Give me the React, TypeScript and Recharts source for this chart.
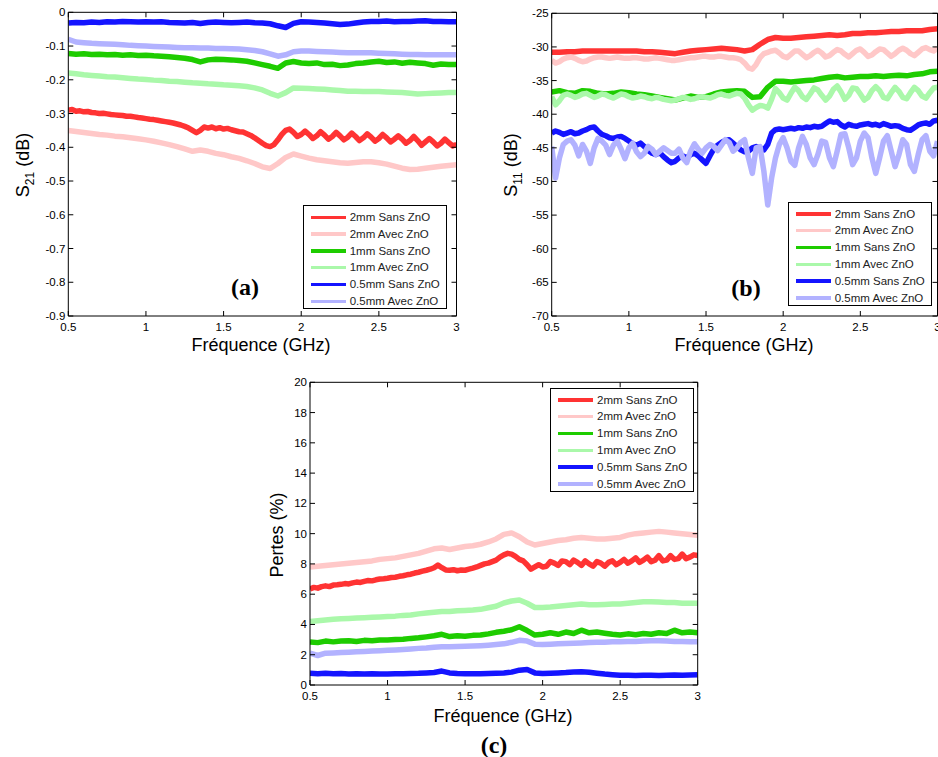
import React from 'react';
import { LineChart, Line, XAxis, YAxis } from 'recharts';

// ---------- frequency grids (GHz) ----------
const FREQ_COARSE = [0.5,0.55,0.6,0.65,0.7,0.75,0.8,0.85,0.9,0.95,1,1.05,1.1,1.15,1.2,1.25,1.3,1.35,1.4,1.45,1.5,1.55,1.6,1.65,1.7,1.75,1.8,1.85,1.9,1.95,2,2.05,2.1,2.15,2.2,2.25,2.3,2.35,2.4,2.45,2.5,2.55,2.6,2.65,2.7,2.75,2.8,2.85,2.9,2.95,3];
const FREQ_FINE = [0.5,0.525,0.55,0.575,0.6,0.625,0.65,0.675,0.7,0.725,0.75,0.775,0.8,0.825,0.85,0.875,0.9,0.925,0.95,0.975,1,1.025,1.05,1.075,1.1,1.125,1.15,1.175,1.2,1.225,1.25,1.275,1.3,1.325,1.35,1.375,1.4,1.425,1.45,1.475,1.5,1.525,1.55,1.575,1.6,1.625,1.65,1.675,1.7,1.725,1.75,1.775,1.8,1.825,1.85,1.875,1.9,1.925,1.95,1.975,2,2.025,2.05,2.075,2.1,2.125,2.15,2.175,2.2,2.225,2.25,2.275,2.3,2.325,2.35,2.375,2.4,2.425,2.45,2.475,2.5,2.525,2.55,2.575,2.6,2.625,2.65,2.675,2.7,2.725,2.75,2.775,2.8,2.825,2.85,2.875,2.9,2.925,2.95,2.975,3];

// ---------- tick labels ----------
const X_TICKS = [0.5, 1, 1.5, 2, 2.5, 3];
const Y_TICKS_A = [0, -0.1, -0.2, -0.3, -0.4, -0.5, -0.6, -0.7, -0.8, -0.9];
const Y_TICKS_B = [-25, -30, -35, -40, -45, -50, -55, -60, -65, -70];
const Y_TICKS_C = [0, 2, 4, 6, 8, 10, 12, 14, 16, 18, 20];

const LEGEND_NAMES = ['2mm Sans ZnO', '2mm Avec ZnO', '1mm Sans ZnO', '1mm Avec ZnO', '0.5mm Sans ZnO', '0.5mm Avec ZnO'];
const COLORS = ['#FF3333', '#FFC8C8', '#1ECC00', '#AAF8AA', '#1414FF', '#B2B2FF'];

// ---------- (a) S21 (dB) ----------
const S21_2MM_SANS = [-0.290,-0.288,-0.293,-0.292,-0.295,-0.294,-0.297,-0.298,-0.300,-0.299,
 -0.301,-0.303,-0.304,-0.305,-0.306,-0.308,-0.308,-0.310,-0.312,-0.313,
 -0.315,-0.317,-0.318,-0.320,-0.322,-0.324,-0.326,-0.328,-0.331,-0.334,
 -0.338,-0.343,-0.350,-0.357,-0.350,-0.340,-0.343,-0.340,-0.345,-0.342,
 -0.346,-0.344,-0.348,-0.351,-0.354,-0.355,-0.360,-0.365,-0.372,-0.380,
 -0.388,-0.395,-0.398,-0.392,-0.378,-0.362,-0.350,
 -0.346,-0.356,-0.368,-0.362,-0.352,-0.362,-0.374,-0.366,-0.354,-0.364,-0.376,-0.368,-0.356,-0.366,-0.378,-0.370,-0.358,-0.368,-0.380,-0.372,-0.360,-0.370,-0.382,-0.374,-0.362,-0.372,-0.384,-0.376,-0.366,-0.376,-0.388,-0.380,-0.368,-0.380,-0.394,-0.384,-0.374,-0.384,-0.396,-0.388,-0.376,-0.386,-0.396,-0.392];
const S21_2MM_AVEC = [-0.350,-0.353,-0.356,-0.359,-0.362,-0.364,-0.367,-0.369,-0.372,-0.375,
 -0.378,-0.382,-0.387,-0.392,-0.398,-0.405,-0.412,-0.408,-0.412,-0.418,
 -0.422,-0.428,-0.433,-0.440,-0.448,-0.458,-0.463,-0.448,-0.430,-0.420,
 -0.426,-0.432,-0.437,-0.440,-0.443,-0.446,-0.447,-0.445,-0.443,-0.443,
 -0.446,-0.450,-0.456,-0.462,-0.466,-0.465,-0.462,-0.459,-0.456,-0.454,-0.452];
const S21_1MM_SANS = [-0.122,-0.124,-0.123,-0.125,-0.124,-0.126,-0.125,-0.127,-0.126,-0.128,
 -0.127,-0.129,-0.130,-0.132,-0.134,-0.136,-0.140,-0.147,-0.141,-0.139,
 -0.140,-0.141,-0.143,-0.145,-0.150,-0.155,-0.160,-0.166,-0.150,-0.146,
 -0.150,-0.152,-0.150,-0.155,-0.154,-0.158,-0.156,-0.152,-0.150,-0.147,
 -0.145,-0.149,-0.147,-0.151,-0.148,-0.150,-0.152,-0.157,-0.153,-0.155,-0.155];
const S21_1MM_AVEC = [-0.180,-0.182,-0.185,-0.187,-0.189,-0.191,-0.192,-0.194,-0.196,-0.198,
 -0.199,-0.201,-0.202,-0.204,-0.205,-0.207,-0.209,-0.210,-0.212,-0.213,
 -0.215,-0.216,-0.218,-0.220,-0.224,-0.230,-0.240,-0.248,-0.238,-0.224,
 -0.225,-0.226,-0.227,-0.228,-0.230,-0.232,-0.234,-0.234,-0.235,-0.235,
 -0.235,-0.236,-0.237,-0.238,-0.240,-0.242,-0.241,-0.240,-0.239,-0.238,-0.238];
const S21_05MM_SANS = [-0.032,-0.030,-0.031,-0.029,-0.030,-0.028,-0.029,-0.027,-0.028,-0.029,
 -0.028,-0.029,-0.028,-0.030,-0.031,-0.032,-0.030,-0.033,-0.030,-0.029,
 -0.030,-0.031,-0.030,-0.029,-0.031,-0.032,-0.034,-0.040,-0.045,-0.033,
 -0.028,-0.029,-0.030,-0.032,-0.034,-0.036,-0.035,-0.032,-0.029,-0.027,
 -0.027,-0.026,-0.028,-0.027,-0.027,-0.026,-0.025,-0.027,-0.027,-0.028,-0.028];
const S21_05MM_AVEC = [-0.080,-0.088,-0.090,-0.092,-0.093,-0.094,-0.095,-0.096,-0.098,-0.099,
 -0.100,-0.101,-0.102,-0.103,-0.104,-0.105,-0.105,-0.106,-0.106,-0.107,
 -0.107,-0.108,-0.109,-0.111,-0.113,-0.117,-0.123,-0.130,-0.126,-0.117,
 -0.115,-0.115,-0.116,-0.117,-0.118,-0.119,-0.120,-0.120,-0.120,-0.120,
 -0.121,-0.122,-0.123,-0.124,-0.125,-0.125,-0.126,-0.126,-0.126,-0.126,-0.126];

// ---------- (b) S11 (dB) ----------
const S11_2MM_SANS = [-30.8,-30.8,-30.7,-30.7,-30.6,-30.6,-30.6,-30.6,-30.6,-30.6,
 -30.6,-30.6,-30.7,-30.7,-30.8,-30.9,-31.0,-30.8,-30.6,-30.5,
 -30.4,-30.3,-30.2,-30.3,-30.4,-30.6,-30.4,-29.6,-28.9,-28.6,
 -28.7,-28.7,-28.6,-28.5,-28.4,-28.3,-28.2,-28.3,-28.2,-28.0,
 -28.0,-27.9,-27.9,-27.8,-27.7,-27.7,-27.6,-27.6,-27.6,-27.4,-27.3];
const S11_2MM_AVEC = [-32.0,-32.4,-32.2,-31.8,-31.6,-31.5,-31.7,-32.0,-32.2,-32.1,
 -31.8,-31.6,-31.5,-31.5,-31.6,-31.7,-31.6,-31.5,-31.6,-31.7,
 -31.7,-31.6,-31.6,-31.7,-31.8,-31.8,-31.7,-31.6,-31.7,-31.8,
 -31.9,-32.0,-32.0,-31.9,-31.8,-31.7,-31.6,-31.6,-31.5,-31.4,
 -31.4,-31.5,-31.5,-31.4,-31.4,-31.5,-31.6,-31.6,-31.7,-31.9,
 -32.4,-33.1,-33.3,-32.6,-31.6,-31.0,-30.8,-30.6,-30.5,-30.9,
 -31.4,-31.6,-31.1,-30.6,-30.6,-31.1,-31.6,-31.3,-30.8,-30.5,
 -30.9,-31.5,-31.3,-30.8,-30.4,-30.6,-31.1,-31.5,-31.0,-30.5,
 -30.3,-30.8,-31.4,-31.2,-30.7,-30.3,-30.4,-30.9,-31.4,-31.0,
 -30.5,-30.2,-30.5,-31.0,-31.3,-30.8,-30.3,-30.1,-30.4,-30.6,-30.2];
const S11_1MM_SANS = [-36.7,-36.5,-36.8,-36.9,-36.5,-36.6,-36.9,-37.0,-36.9,-36.7,
 -36.8,-37.0,-37.1,-37.3,-37.5,-37.7,-37.9,-37.6,-37.3,-37.5,
 -37.4,-37.0,-36.7,-36.6,-36.5,-36.6,-37.5,-37.4,-36.0,-35.1,
 -35.1,-35.2,-35.1,-35.0,-34.9,-34.7,-34.5,-34.4,-34.6,-34.5,
 -34.4,-34.4,-34.3,-34.4,-34.3,-34.2,-34.3,-34.1,-34.0,-33.7,-33.6];
const S11_1MM_AVEC = [-37.4,-38.6,-38.0,-37.2,-37.0,-37.2,-37.5,-37.3,-37.0,-36.9,
 -37.2,-37.5,-37.3,-37.0,-37.1,-37.4,-37.6,-37.3,-37.0,-37.1,
 -37.4,-37.6,-37.5,-37.3,-37.4,-37.6,-37.7,-37.5,-37.6,-37.8,
 -37.9,-38.0,-37.9,-37.7,-37.5,-37.6,-37.8,-37.7,-37.5,-37.4,
 -37.5,-37.6,-37.4,-37.1,-37.0,-37.2,-37.3,-37.1,-36.9,-37.0,
 -37.6,-38.6,-39.4,-39.0,-38.7,-38.8,-39.1,-37.8,-36.2,-36.8,
 -37.6,-37.9,-36.9,-36.0,-36.5,-37.4,-37.8,-37.0,-36.1,-36.4,
 -37.2,-37.9,-37.3,-36.3,-35.8,-36.7,-37.8,-37.2,-36.1,-36.2,
 -37.0,-37.9,-37.5,-36.5,-35.9,-36.5,-37.5,-37.7,-36.8,-36.0,
 -36.6,-37.5,-37.7,-36.8,-36.0,-36.5,-37.3,-37.6,-36.8,-36.1,-36.0];
const S11_05MM_SANS = [-42.8,-42.5,-42.7,-43.0,-42.8,-42.6,-42.9,-42.8,-42.5,-42.3,
 -42.0,-41.9,-42.5,-43.0,-43.2,-43.5,-43.6,-43.4,-43.3,-43.6,
 -44.0,-44.4,-44.6,-44.3,-44.8,-45.4,-45.8,-46.0,-45.7,-46.3,
 -46.8,-47.2,-47.0,-46.5,-46.2,-46.5,-46.0,-45.8,-46.2,-46.8,
 -47.3,-46.2,-45.2,-44.6,-44.2,-43.9,-43.8,-44.3,-44.8,-45.3,
 -45.6,-45.5,-45.0,-44.8,-45.0,-45.3,-44.5,-42.8,-42.3,-42.2,
 -42.3,-42.2,-42.1,-42.2,-42.0,-42.1,-41.9,-42.0,-41.8,-41.9,
 -41.8,-41.4,-41.0,-41.2,-41.1,-41.6,-41.9,-41.5,-41.7,-41.8,
 -41.6,-41.5,-41.4,-41.6,-41.5,-41.7,-41.4,-41.6,-41.8,-41.7,
 -41.8,-42.1,-42.3,-42.4,-42.0,-41.6,-41.4,-41.3,-41.5,-41.0,-40.9];
const S11_05MM_AVEC = [-44.8,-49.5,-46.5,-44.5,-44.0,-43.8,-44.6,-46.2,-44.5,-45.5,
 -47.3,-45.0,-43.6,-44.0,-44.6,-46.0,-44.6,-44.0,-45.2,-46.6,
 -45.0,-44.3,-45.6,-46.3,-45.8,-44.8,-45.2,-46.0,-45.5,-45.0,
 -45.4,-45.8,-45.8,-45.2,-46.5,-47.2,-45.5,-44.4,-45.2,-45.8,
 -45.0,-44.5,-44.8,-45.4,-44.6,-43.8,-44.2,-45.5,-45.0,-44.2,
 -43.8,-46.5,-48.8,-45.0,-44.8,-48.5,
 -53.5,-49.5,-46.5,-44.5,-43.5,-45.0,-47.0,-47.6,-45.0,-43.3,
 -44.5,-46.5,-47.5,-46.0,-44.0,-44.2,-46.5,-47.8,-45.5,-43.0,
 -42.9,-45.0,-47.5,-46.5,-44.0,-42.8,-43.5,-46.5,-48.8,-46.5,
 -44.0,-43.2,-45.5,-47.8,-46.0,-43.8,-44.5,-47.5,-48.5,-46.0,
 -43.8,-43.2,-45.5,-46.2,-44.0];

// ---------- (c) Pertes (%) ----------
const P_2MM_SANS = [6.35,6.45,6.40,6.50,6.55,6.50,6.60,6.62,6.65,6.70,
 6.68,6.75,6.80,6.78,6.85,6.90,6.88,6.95,7.00,7.02,
 7.05,7.10,7.12,7.18,7.22,7.28,7.32,7.40,7.45,7.52,
 7.58,7.65,7.75,7.92,7.75,7.60,7.58,7.62,7.55,7.60,
 7.58,7.65,7.72,7.80,7.90,8.00,8.05,8.15,8.25,8.45,
 8.60,8.70,8.65,8.50,8.30,8.20,7.95,7.65,7.80,7.95,
 7.80,7.85,8.15,8.05,7.90,8.20,8.15,7.95,8.25,8.10,
 7.90,8.20,8.00,7.85,8.15,8.05,7.85,8.10,8.20,7.95,
 8.10,8.30,8.05,8.20,8.40,8.10,8.25,8.45,8.15,8.25,
 8.55,8.20,8.25,8.55,8.30,8.35,8.65,8.35,8.45,8.60,8.55];
const P_2MM_AVEC = [7.8,7.85,7.9,7.95,8.0,8.05,8.1,8.15,8.2,8.3,
 8.35,8.4,8.5,8.6,8.7,8.85,9.0,9.05,8.95,9.05,
 9.15,9.2,9.3,9.45,9.65,9.95,10.05,9.8,9.45,9.25,
 9.35,9.45,9.55,9.6,9.7,9.75,9.7,9.65,9.65,9.7,
 9.75,9.9,10.0,10.05,10.1,10.15,10.1,10.05,10.0,9.95,9.9];
const P_1MM_SANS = [2.85,2.8,2.9,2.85,2.9,2.92,2.88,2.95,2.92,2.98,
 2.97,3.0,3.02,3.08,3.12,3.18,3.25,3.35,3.2,3.25,
 3.22,3.28,3.3,3.38,3.48,3.55,3.65,3.85,3.6,3.3,
 3.35,3.45,3.35,3.5,3.4,3.62,3.45,3.5,3.42,3.35,
 3.3,3.38,3.32,3.4,3.35,3.45,3.4,3.62,3.45,3.5,3.45];
const P_1MM_AVEC = [4.2,4.25,4.3,4.35,4.38,4.4,4.42,4.45,4.48,4.5,
 4.52,4.55,4.6,4.62,4.7,4.75,4.8,4.85,4.85,4.9,
 4.92,4.95,5.0,5.1,5.2,5.42,5.55,5.62,5.4,5.12,
 5.12,5.15,5.2,5.25,5.3,5.35,5.3,5.3,5.32,5.35,
 5.35,5.4,5.45,5.5,5.5,5.48,5.45,5.45,5.4,5.4,5.4];
const P_05MM_SANS = [0.78,0.75,0.78,0.74,0.76,0.73,0.75,0.72,0.74,0.73,
 0.72,0.75,0.74,0.76,0.77,0.8,0.83,0.92,0.8,0.76,
 0.75,0.74,0.75,0.76,0.78,0.8,0.85,0.98,1.02,0.8,
 0.76,0.78,0.8,0.82,0.86,0.88,0.84,0.78,0.72,0.68,
 0.65,0.64,0.63,0.65,0.64,0.62,0.64,0.66,0.65,0.66,0.68];
const P_05MM_AVEC = [2.1,1.95,2.1,2.12,2.15,2.17,2.2,2.22,2.25,2.27,
 2.3,2.32,2.35,2.38,2.42,2.45,2.5,2.52,2.53,2.55,
 2.56,2.58,2.6,2.63,2.67,2.72,2.82,2.95,2.9,2.7,
 2.68,2.7,2.72,2.74,2.76,2.78,2.8,2.82,2.83,2.85,
 2.86,2.87,2.88,2.9,2.92,2.92,2.9,2.88,2.87,2.86,2.86];

type Pt = { f: number; v: number };
function zip(freq: number[], values: number[]): Pt[] {
  const n = Math.min(freq.length, values.length);
  const out: Pt[] = [];
  for (let i = 0; i < n; i++) out.push({ f: freq[i], v: values[i] });
  return out;
}

const SERIES_A = [
  zip(FREQ_FINE, S21_2MM_SANS), zip(FREQ_COARSE, S21_2MM_AVEC),
  zip(FREQ_COARSE, S21_1MM_SANS), zip(FREQ_COARSE, S21_1MM_AVEC),
  zip(FREQ_COARSE, S21_05MM_SANS), zip(FREQ_COARSE, S21_05MM_AVEC),
];
const SERIES_B = [
  zip(FREQ_COARSE, S11_2MM_SANS), zip(FREQ_FINE, S11_2MM_AVEC),
  zip(FREQ_COARSE, S11_1MM_SANS), zip(FREQ_FINE, S11_1MM_AVEC),
  zip(FREQ_FINE, S11_05MM_SANS), zip(FREQ_FINE, S11_05MM_AVEC),
];
const SERIES_C = [
  zip(FREQ_FINE, P_2MM_SANS), zip(FREQ_COARSE, P_2MM_AVEC),
  zip(FREQ_COARSE, P_1MM_SANS), zip(FREQ_COARSE, P_1MM_AVEC),
  zip(FREQ_COARSE, P_05MM_SANS), zip(FREQ_COARSE, P_05MM_AVEC),
];

const SANS = '"Liberation Sans", Arial, Helvetica, sans-serif';
const SERIF = '"Liberation Serif", "Times New Roman", serif';
const TICK_FS = 11.5;
const TL = 5;

const BottomTick = (p: any) => (
  <g>
    <line x1={p.x} y1={p.y} x2={p.x} y2={p.y - TL} stroke="#000" strokeWidth={1} />
    <text x={p.x} y={p.y + 15} textAnchor="middle" fontSize={TICK_FS} fill="#000" fontFamily={SANS}>{String(p.payload.value)}</text>
  </g>
);
const TopTick = (p: any) => (
  <line x1={p.x} y1={p.y} x2={p.x} y2={p.y + TL} stroke="#000" strokeWidth={1} />
);
const LeftTick = (p: any) => (
  <g>
    <line x1={p.x} y1={p.y} x2={p.x + TL} y2={p.y} stroke="#000" strokeWidth={1} />
    <text x={p.x - 3} y={p.y + 4} textAnchor="end" fontSize={TICK_FS} fill="#000" fontFamily={SANS}>{String(p.payload.value)}</text>
  </g>
);
const RightTick = (p: any) => (
  <line x1={p.x} y1={p.y} x2={p.x - TL} y2={p.y} stroke="#000" strokeWidth={1} />
);

type PanelProps = {
  left: number; top: number; width: number; height: number;
  plot: { top: number; right: number; bottom: number; left: number };
  yDomain: [number, number]; yTicks: number[]; series: Pt[][];
};

// plot = desired gaps between chart edges and the plot frame; each axis takes 1px
function Panel({ left, top, width, height, plot, yDomain, yTicks, series }: PanelProps) {
  const axisLine = { stroke: '#000', strokeWidth: 1 };
  const margin = { top: plot.top - 1, right: plot.right - 1, bottom: plot.bottom - 1, left: plot.left - 1 };
  return (
    <div style={{ position: 'absolute', left, top, width, height }}>
      <LineChart width={width} height={height} margin={margin} style={{ fontFamily: SANS }}>
        <XAxis xAxisId="b" dataKey="f" type="number" domain={[0.5, 3]} ticks={X_TICKS} interval={0}
          allowDataOverflow height={1} tickSize={0} tickMargin={0} tickLine={false} axisLine={axisLine} tick={BottomTick} />
        <XAxis xAxisId="t" orientation="top" dataKey="f" type="number" domain={[0.5, 3]} ticks={X_TICKS} interval={0}
          allowDataOverflow height={1} tickSize={0} tickMargin={0} tickLine={false} axisLine={axisLine} tick={TopTick} />
        <YAxis yAxisId="l" type="number" domain={yDomain} ticks={yTicks} interval={0}
          allowDataOverflow width={1} tickSize={0} tickMargin={0} tickLine={false} axisLine={axisLine} tick={LeftTick} />
        <YAxis yAxisId="r" orientation="right" type="number" domain={yDomain} ticks={yTicks} interval={0}
          allowDataOverflow width={1} tickSize={0} tickMargin={0} tickLine={false} axisLine={axisLine} tick={RightTick} />
        {series.map((d, i) => (
          <Line key={i} xAxisId="b" yAxisId="l" data={d} dataKey="v" type="linear" stroke={COLORS[i]}
            strokeWidth={5.5} strokeLinejoin="round" dot={false} activeDot={false} isAnimationActive={false} />
        ))}
      </LineChart>
    </div>
  );
}

function LegendBox({ left, top }: { left: number; top: number }) {
  return (
    <div style={{ position: 'absolute', left, top, width: 144, height: 104, border: '1px solid #000',
      boxSizing: 'border-box', background: '#fff', fontFamily: SANS }}>
      {LEGEND_NAMES.map((n, i) => (
        <div key={n} style={{ position: 'absolute', left: 0, top: 11 + i * 16.8 - 8, height: 16, width: 142 }}>
          <div style={{ position: 'absolute', left: 7, top: 6.5, width: 35, height: 3.5, background: COLORS[i] }} />
          <div style={{ position: 'absolute', left: 46, top: 0, fontSize: 11.5, lineHeight: '16px', color: '#222', whiteSpace: 'nowrap' }}>{n}</div>
        </div>
      ))}
    </div>
  );
}

function YLabel({ cx, cy, children }: { cx: number; cy: number; children: React.ReactNode }) {
  return (
    <div style={{ position: 'absolute', left: cx - 60, top: cy - 12, width: 120, height: 24, textAlign: 'center',
      transform: 'rotate(-90deg)', fontFamily: SANS, fontSize: 18, lineHeight: '24px', color: '#000', whiteSpace: 'nowrap' }}>
      {children}
    </div>
  );
}

function XLabel({ cx, cy, text }: { cx: number; cy: number; text: string }) {
  return (
    <div style={{ position: 'absolute', left: cx - 100, top: cy - 12, width: 200, height: 24, textAlign: 'center',
      fontFamily: SANS, fontSize: 18, lineHeight: '24px', color: '#000', whiteSpace: 'nowrap' }}>{text}</div>
  );
}

function Tag({ cx, cy, text }: { cx: number; cy: number; text: string }) {
  return (
    <div style={{ position: 'absolute', left: cx - 30, top: cy - 14, width: 60, height: 28, textAlign: 'center',
      fontFamily: SERIF, fontWeight: 'bold', fontSize: 24, lineHeight: '28px', color: '#000' }}>{text}</div>
  );
}

const sub = { fontSize: 12, verticalAlign: 'sub' as const, lineHeight: 0 };

export default function App() {
  return (
    <div style={{ position: 'absolute', left: 0, top: 0, width: 938, height: 757, overflow: 'hidden', background: '#fff' }}>
      <Panel left={0} top={0} width={470} height={360}
        plot={{ top: 12.3, right: 13.5, bottom: 44, left: 68.3 }}
        yDomain={[-0.9, 0]} yTicks={Y_TICKS_A} series={SERIES_A} />
      <Panel left={470} top={0} width={490} height={360}
        plot={{ top: 13.3, right: 22.5, bottom: 44, left: 81.7 }}
        yDomain={[-70, -25]} yTicks={Y_TICKS_B} series={SERIES_B} />
      <Panel left={240} top={370} width={480} height={387}
        plot={{ top: 12.3, right: 22.3, bottom: 72, left: 70 }}
        yDomain={[0, 20]} yTicks={Y_TICKS_C} series={SERIES_C} />

      <LegendBox left={302.7} top={205} />
      <LegendBox left={787.7} top={201.7} />
      <LegendBox left={550} top={387.7} />

      <YLabel cx={23} cy={165}>S<span style={sub}>21</span> (dB)</YLabel>
      <YLabel cx={511} cy={165}>S<span style={sub}>11</span> (dB)</YLabel>
      <YLabel cx={277} cy={535}>Pertes (%)</YLabel>

      <XLabel cx={261} cy={345} text="Fréquence (GHz)" />
      <XLabel cx={744} cy={345} text="Fréquence (GHz)" />
      <XLabel cx={503} cy={716} text="Fréquence (GHz)" />

      <Tag cx={245} cy={287} text="(a)" />
      <Tag cx={746} cy={288} text="(b)" />
      <Tag cx={494} cy={745} text="(c)" />
    </div>
  );
}
